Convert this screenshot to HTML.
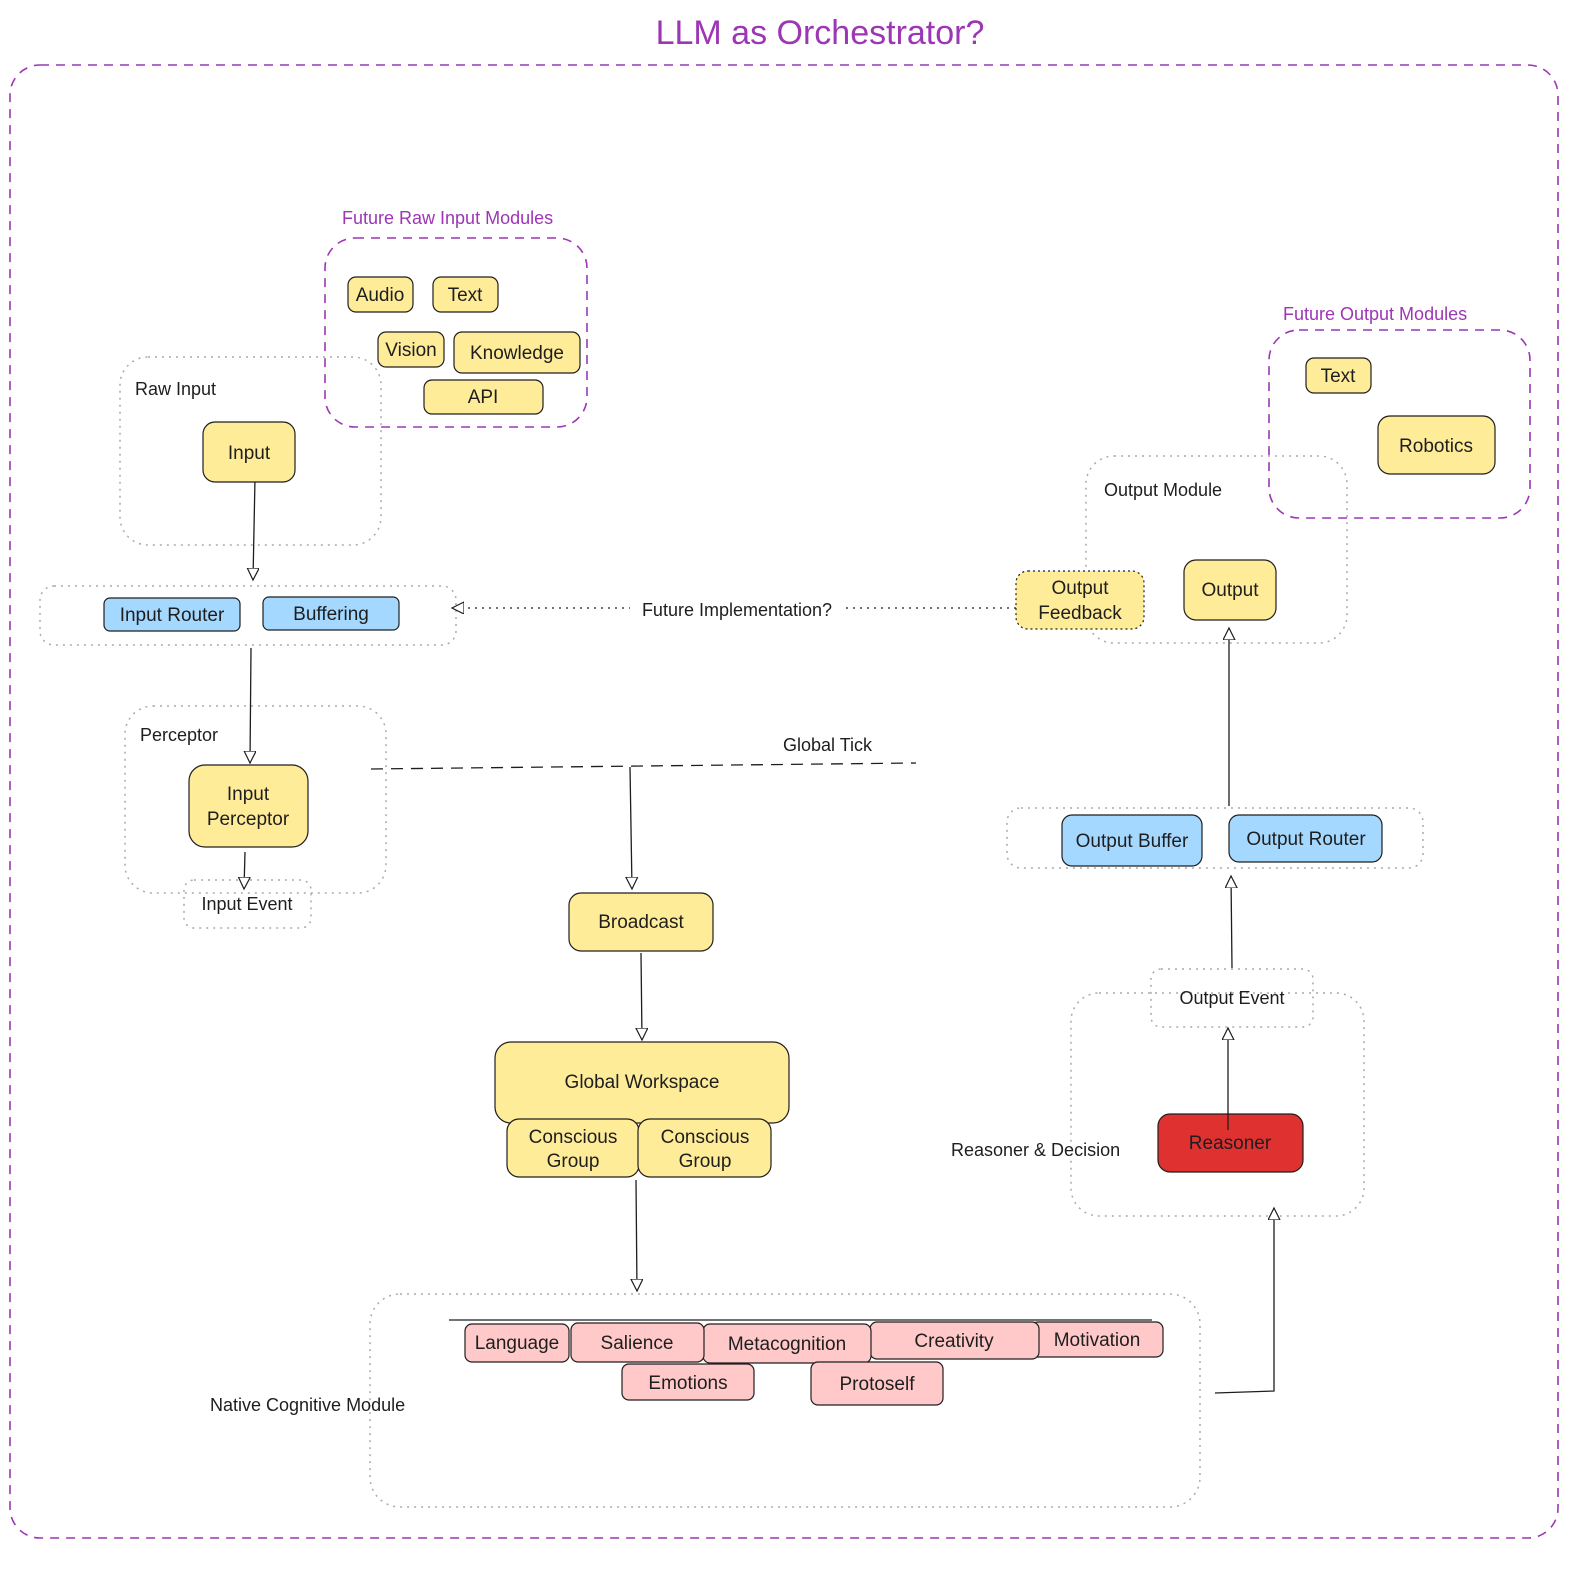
<!DOCTYPE html>
<html><head><meta charset="utf-8"><style>
html,body{margin:0;padding:0;background:#fff;overflow:hidden;width:1593px;height:1573px}
svg{display:block}
svg text{font-family:"Liberation Sans",sans-serif;fill:#1e1e1e}
</style></head><body>
<svg width="1593" height="1573" viewBox="0 0 1593 1573" xmlns="http://www.w3.org/2000/svg">
<defs>
<marker id="a" markerWidth="14" markerHeight="14" refX="12" refY="6" orient="auto" markerUnits="userSpaceOnUse">
<path d="M0,0 L12,6 L0,12 Z" fill="#fff" stroke="#1e1e1e" stroke-width="1.2"/>
</marker>
</defs>
<g fill="none" stroke="#9c36b5" stroke-width="1.6" stroke-dasharray="9,7">
<rect x="10" y="65" width="1548" height="1473" rx="30"/>
<rect x="325" y="238" width="262" height="189" rx="30"/>
<rect x="1269" y="330" width="261" height="188" rx="30"/>
</g>
<text x="820" y="44" font-size="34" text-anchor="middle" style="fill:#9c36b5">LLM as Orchestrator?</text>
<text x="342" y="224" font-size="18" style="fill:#9c36b5">Future Raw Input Modules</text>
<text x="1283" y="320" font-size="18" style="fill:#9c36b5">Future Output Modules</text>
<g fill="none" stroke="#aaa" stroke-width="1.5" stroke-dasharray="2,5">
<rect x="120" y="357" width="261" height="188" rx="28"/>
<rect x="40" y="586" width="416" height="59" rx="14"/>
<rect x="125" y="706" width="261" height="187" rx="28"/>
<rect x="184" y="880" width="127" height="48" rx="10"/>
<rect x="370" y="1294" width="830" height="213" rx="30"/>
<rect x="1071" y="993" width="293" height="223" rx="28"/>
<rect x="1151" y="969" width="162" height="58" rx="10"/>
<rect x="1007" y="808" width="416" height="60" rx="14"/>
<rect x="1086" y="456" width="261" height="187" rx="28"/>
</g>
<g font-size="18">
<text x="135" y="395">Raw Input</text>
<text x="140" y="741">Perceptor</text>
<text x="210" y="1411">Native Cognitive Module</text>
<text x="951" y="1156">Reasoner &amp; Decision</text>
<text x="1104" y="496">Output Module</text>
<text x="783" y="751">Global Tick</text>
<text x="247" y="910" text-anchor="middle">Input Event</text>
<text x="1232" y="1004" text-anchor="middle">Output Event</text>
</g>
<g stroke="#1e1e1e" stroke-width="1.3" fill="none">
<line x1="255" y1="478" x2="253" y2="580" marker-end="url(#a)"/>
<line x1="251" y1="648" x2="250" y2="763" marker-end="url(#a)"/>
<line x1="245" y1="852" x2="244" y2="889" marker-end="url(#a)"/>
<line x1="371" y1="769" x2="916" y2="763" stroke-dasharray="12,8"/>
<line x1="630" y1="767" x2="632" y2="889" marker-end="url(#a)"/>
<line x1="641" y1="953" x2="642" y2="1040" marker-end="url(#a)"/>
<line x1="636" y1="1180" x2="637" y2="1291" marker-end="url(#a)"/>
<line x1="449" y1="1320" x2="1152" y2="1320"/>
<polyline points="1215,1393 1274,1391 1274,1208" marker-end="url(#a)"/>
<line x1="1228" y1="1130" x2="1228" y2="1028" marker-end="url(#a)"/>
<line x1="1232" y1="968" x2="1231" y2="876" marker-end="url(#a)"/>
<line x1="1229" y1="806" x2="1229" y2="628" marker-end="url(#a)"/>
<line x1="1023" y1="608" x2="452" y2="608" stroke-dasharray="2,5" marker-end="url(#a)"/>
</g>
<rect x="630" y="597" width="214" height="24" fill="#fff"/>
<text x="737" y="616" font-size="18" text-anchor="middle">Future Implementation?</text>
<g stroke="#1e1e1e" stroke-width="1.2">
<g fill="#ffec99">
<rect x="348" y="277" width="65" height="35" rx="8"/>
<rect x="433" y="277" width="65" height="35" rx="8"/>
<rect x="378" y="332" width="66" height="35" rx="8"/>
<rect x="454" y="332" width="126" height="41" rx="8"/>
<rect x="424" y="380" width="119" height="34" rx="8"/>
<rect x="203" y="422" width="92" height="60" rx="12"/>
<rect x="189" y="765" width="119" height="82" rx="16"/>
<rect x="569" y="893" width="144" height="58" rx="12"/>
<rect x="495" y="1042" width="294" height="81" rx="16"/>
<rect x="507" y="1119" width="132" height="58" rx="12"/>
<rect x="638" y="1119" width="133" height="58" rx="12"/>
<rect x="1184" y="560" width="92" height="60" rx="12"/>
<rect x="1016" y="571" width="128" height="58" rx="12" stroke-dasharray="2,3"/>
<rect x="1306" y="358" width="65" height="35" rx="8"/>
<rect x="1378" y="416" width="117" height="58" rx="12"/>
</g>
<g fill="#a5d8ff">
<rect x="104" y="598" width="136" height="33" rx="6"/>
<rect x="263" y="597" width="136" height="33" rx="6"/>
<rect x="1062" y="815" width="140" height="51" rx="10"/>
<rect x="1229" y="815" width="153" height="47" rx="10"/>
</g>
<g fill="#ffc9c9">
<rect x="1031" y="1322" width="132" height="35" rx="7"/>
<rect x="870" y="1322" width="169" height="37" rx="7"/>
<rect x="703" y="1324" width="168" height="39" rx="7"/>
<rect x="571" y="1323" width="133" height="39" rx="7"/>
<rect x="465" y="1324" width="104" height="38" rx="7"/>
<rect x="622" y="1364" width="132" height="36" rx="7"/>
<rect x="811" y="1362" width="132" height="43" rx="7"/>
</g>
<rect x="1158" y="1114" width="145" height="58" rx="12" fill="#e03131"/>
</g>
<line x1="1228" y1="1130" x2="1228" y2="1114" stroke="#1e1e1e" stroke-width="1.3"/>
<g font-size="19" text-anchor="middle">
<text x="380" y="301">Audio</text>
<text x="465" y="301">Text</text>
<text x="411" y="356">Vision</text>
<text x="517" y="359">Knowledge</text>
<text x="483" y="403">API</text>
<text x="249" y="459">Input</text>
<text x="172" y="621">Input Router</text>
<text x="331" y="620">Buffering</text>
<text x="248" y="800">Input</text>
<text x="248" y="825">Perceptor</text>
<text x="641" y="928">Broadcast</text>
<text x="642" y="1088">Global Workspace</text>
<text x="573" y="1143">Conscious</text>
<text x="573" y="1167">Group</text>
<text x="705" y="1143">Conscious</text>
<text x="705" y="1167">Group</text>
<text x="517" y="1349">Language</text>
<text x="637" y="1349">Salience</text>
<text x="787" y="1350">Metacognition</text>
<text x="954" y="1347">Creativity</text>
<text x="1097" y="1346">Motivation</text>
<text x="688" y="1389">Emotions</text>
<text x="877" y="1390">Protoself</text>
<text x="1230" y="1149">Reasoner</text>
<text x="1132" y="847">Output Buffer</text>
<text x="1306" y="845">Output Router</text>
<text x="1230" y="596">Output</text>
<text x="1080" y="594">Output</text>
<text x="1080" y="619">Feedback</text>
<text x="1338" y="382">Text</text>
<text x="1436" y="452">Robotics</text>
</g>
</svg>
</body></html>
